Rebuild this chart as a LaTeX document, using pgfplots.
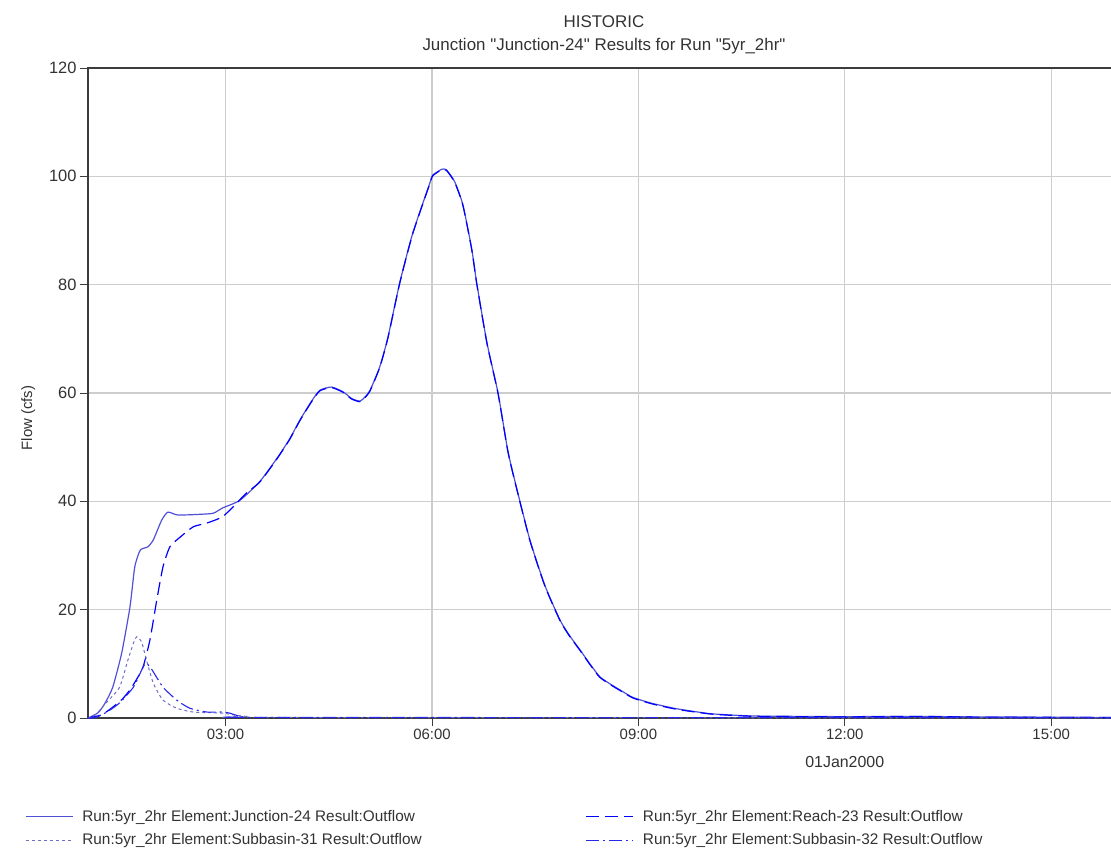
\documentclass[border=0pt]{standalone}
\usepackage{fontspec}
\setmainfont{Liberation Sans}[Ligatures=TeXOff]
\usepackage{pgfplots}
\pgfplotsset{compat=1.18}
\usepackage{pgfplotstable}

\definecolor{jcol}{RGB}{80,80,215}
\definecolor{rcol}{RGB}{0,0,255}
\definecolor{s31col}{RGB}{110,110,200}
\definecolor{s32col}{RGB}{40,40,235}
\definecolor{gridc}{RGB}{205,205,205}
\definecolor{axc}{RGB}{60,60,60}
\definecolor{txt}{RGB}{50,50,50}

% time in hours, flow in cfs
\pgfplotstableread{
t q
1.00 0
1.15 1.0
1.25 2.8
1.36 5.7
1.49 12
1.61 20.5
1.68 27.9
1.76 31
1.87 31.6
1.95 32.9
2.07 36.5
2.16 38
2.29 37.5
2.44 37.5
2.62 37.6
2.82 37.8
2.96 38.8
3.21 40.2
3.50 43.7
3.75 48
3.93 51.5
4.08 55
4.25 58.5
4.37 60.5
4.54 61.1
4.71 60.2
4.83 59
4.95 58.5
5.03 59.3
5.10 60.5
5.24 64.8
5.36 70.3
5.53 80.3
5.72 89.5
5.97 98.8
6.01 100.2
6.14 101.3
6.21 101.2
6.33 99
6.45 94.7
6.58 86.4
6.65 80.3
6.80 69.2
6.96 60
7.10 49.5
7.20 44
7.42 33
7.64 24.5
7.86 18.1
8.00 15.2
8.15 12.6
8.30 9.9
8.44 7.6
8.60 6.2
8.73 5.2
8.92 3.8
9.20 2.7
9.56 1.7
10.04 0.8
10.50 0.45
10.77 0.35
12.00 0.25
13.00 0.3
14.00 0.2
16.00 0.1
}\junction

\pgfplotstableread{
t q
1.00 0
1.20 0.6
1.36 2
1.50 3.5
1.61 5.2
1.70 7
1.80 9.4
1.90 14.4
2.00 21.8
2.09 27.9
2.19 31.6
2.34 33.4
2.53 35.3
2.73 36
2.95 37.1
3.11 39
3.30 41.5
3.50 43.6
3.75 47.9
3.93 51.4
4.08 54.9
4.25 58.4
4.37 60.4
4.54 61
4.71 60.1
4.83 58.9
4.95 58.4
5.03 59.2
5.10 60.4
5.24 64.7
5.36 70.2
5.53 80.2
5.72 89.4
5.97 98.7
6.01 100.1
6.14 101.2
6.21 101.1
6.33 98.9
6.45 94.6
6.58 86.3
6.65 80.2
6.80 69.1
6.96 59.9
7.10 49.4
7.20 43.9
7.42 32.9
7.64 24.4
7.86 18
8.00 15.1
8.15 12.5
8.30 9.8
8.44 7.5
8.60 6.1
8.73 5.1
8.92 3.7
9.20 2.6
9.56 1.6
10.04 0.75
10.50 0.4
10.77 0.3
12.00 0.2
13.00 0.3
14.00 0.15
16.00 0.1
}\reach

\pgfplotstableread{
t q
1.00 0
1.10 0.5
1.28 3
1.46 5.7
1.58 10.7
1.66 13.8
1.71 15
1.78 14
1.85 10.7
1.95 6.4
2.09 3.3
2.29 1.8
2.53 1.1
2.96 0.9
3.10 0.6
3.30 0.3
3.60 0.1
16.00 0
}\subA

\pgfplotstableread{
t q
1.00 0
1.12 0.1
1.30 1.3
1.46 2.8
1.66 5.7
1.80 9.4
1.85 10.1
1.93 8.9
2.09 5.7
2.29 3.3
2.48 1.8
2.73 1.1
2.96 1.1
3.06 0.9
3.25 0.2
3.60 0.1
16.00 0.05
}\subB

\begin{document}
\begin{tikzpicture}
\begin{axis}[
  scale only axis,
  width=1032bp, height=650bp,
  xmin=1, xmax=16, ymin=0, ymax=120,
  font=\fontsize{15}{18}\selectfont,
  xtick={3,6,9,12,15},
  xticklabels={03:00,06:00,09:00,12:00,15:00},
  ytick={0,20,...,120},
  /pgf/number format/assume math mode=true,
  tick label style={text=txt},
  yticklabel style={font=\fontsize{16.5}{18}\selectfont},
  tick align=outside,
  xtick pos=bottom, ytick pos=left,
  major tick length=8bp,
  tick style={axc, line width=0.8bp},
  grid=major,
  major grid style={gridc, line width=1.2bp},
  axis line style={axc, line width=1.2bp},
  title={HISTORIC\\Junction "Junction-24" Results for Run "5yr\_2hr"},
  title style={at={(0.5,1)}, anchor=south, yshift=4bp, align=center,
    font=\fontsize{17}{24}\selectfont, text=txt},
  ylabel={Flow (cfs)},
  every axis y label/.style={at={(axis description cs:-0.058,0.4615)},
    rotate=90, anchor=center, text=txt},
  xlabel={01Jan2000},
  every axis x label/.style={at={(axis description cs:0.7333,-0.0677)},
    anchor=center, text=txt, font=\fontsize{16}{18}\selectfont},
  legend columns=2,
  legend cell align=left,
  legend style={at={(0,0)}, anchor=north west, xshift=-66bp, yshift=-88bp,
    draw=none, fill=none, text=txt, row sep=7bp,
    font=\fontsize{15.4}{18}\selectfont,
    /tikz/every odd column/.append style={column sep=7bp},
    /tikz/every even column/.append style={column sep=162bp}},
  legend image code/.code={\draw[#1] (0bp,0bp) -- (47bp,0bp);},
]
\addplot[jcol, line width=1.2bp, smooth, tension=0.35] table[x=t, y=q] {\junction};
\addlegendentry{Run:5yr\_2hr Element:Junction-24 Result:Outflow}
\addplot[rcol, line width=1.2bp, smooth, tension=0.35, dash pattern=on 13bp off 6bp] table[x=t, y=q] {\reach};
\addlegendentry{Run:5yr\_2hr Element:Reach-23 Result:Outflow}
\addplot[s31col, line width=1bp, smooth, tension=0.35, dash pattern=on 3bp off 3bp] table[x=t, y=q] {\subA};
\addlegendentry{Run:5yr\_2hr Element:Subbasin-31 Result:Outflow}
\addplot[s32col, line width=1.1bp, smooth, tension=0.35, dash pattern=on 13bp off 4bp on 2bp off 4bp] table[x=t, y=q] {\subB};
\addlegendentry{Run:5yr\_2hr Element:Subbasin-32 Result:Outflow}
\end{axis}
\pgfresetboundingbox
\path (current axis.south west) ++(-88bp,-133bp) rectangle ++(1111bp,851bp);
\end{tikzpicture}
\end{document}
